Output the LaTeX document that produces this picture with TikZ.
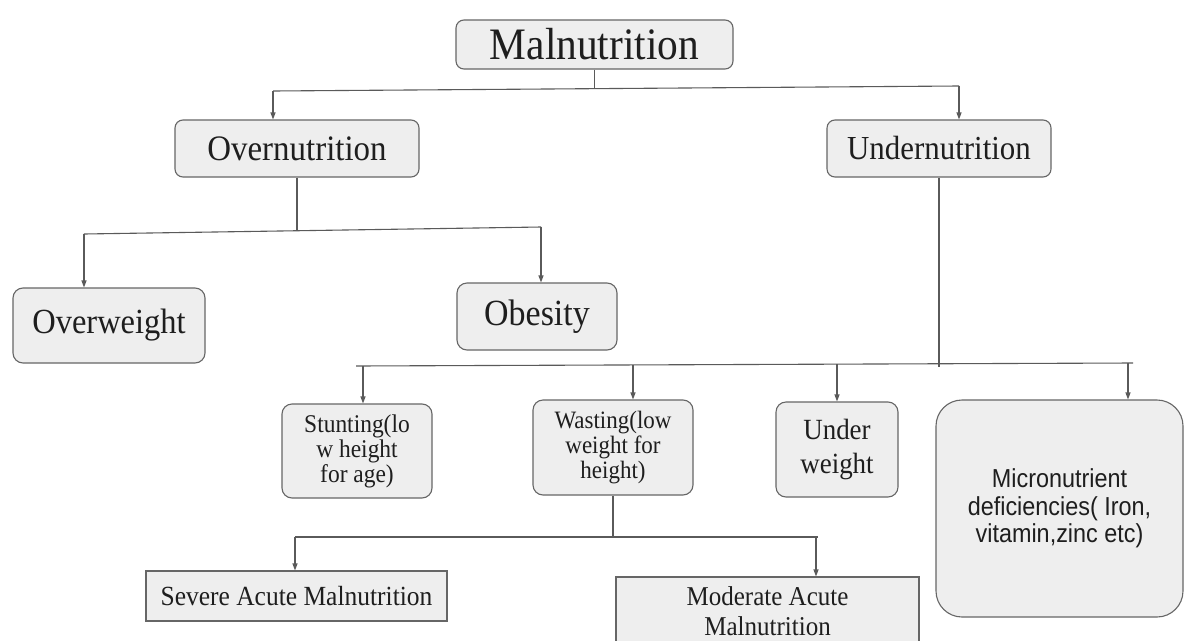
\documentclass[tikz,border=0pt]{standalone}
\usepackage{fontspec}
\setmainfont{Liberation Serif}[FakeStretch=0.92]
\newfontfamily\arialfont{Liberation Sans}[FakeStretch=0.9]
\usetikzlibrary{arrows.meta}
\definecolor{boxfill}{HTML}{EEEEEE}
\definecolor{boxline}{HTML}{666666}
\definecolor{conn}{HTML}{5A5A5A}
\definecolor{txt}{HTML}{1E1E1E}
\tikzset{
  rbox/.style={draw=boxline, line width=1.1pt, fill=boxfill, rounded corners=8pt,
    inner sep=0pt, align=center, text=txt},
  sbox/.style={draw=boxline, line width=1.1pt, fill=boxfill,
    inner sep=0pt, align=center, text=txt},
  link/.style={draw=conn, line width=1.1pt},
  arr/.style={link, -{Triangle[length=7pt,width=5pt]}},
}
\begin{document}
\begin{tikzpicture}[x=1pt,y=-1pt]
\useasboundingbox (0,0) rectangle (1185,640);
\clip (0,0) rectangle (1185,640);
\fill[white] (0,0) rectangle (1185,640);

% nodes
\node[rbox, minimum width=277pt, minimum height=49pt, font=\fontsize{45}{48}\selectfont] (mal) at (594.5,44.5) {Malnutrition};
\node[rbox, minimum width=244pt, minimum height=57pt, font=\fontsize{35.8}{38}\selectfont] (over) at (297,148.5) {Overnutrition};
\node[rbox, minimum width=224pt, minimum height=57pt, font=\fontsize{33.6}{36}\selectfont] (under) at (939,148.5) {Undernutrition};
\node[rbox, rounded corners=10pt, minimum width=192pt, minimum height=75pt, font=\fontsize{35.3}{38}\selectfont] (ow) at (109,325.5) {Overweight};
\node[rbox, rounded corners=10pt, minimum width=160pt, minimum height=67pt, font=\fontsize{36.9}{39}\selectfont] (ob) at (537,316.5) {Obesity};
\node[rbox, rounded corners=10pt, minimum width=150pt, minimum height=94pt, font=\fontsize{25.5}{25}\selectfont] (st) at (357,451) {Stunting(lo\\w height\\for age)};
\node[rbox, rounded corners=10pt, minimum width=160pt, minimum height=95pt, font=\fontsize{25}{25}\selectfont] (wa) at (613,447.5) {Wasting(low\\weight for\\height)};
\node[rbox, rounded corners=10pt, minimum width=122pt, minimum height=95pt, font=\fontsize{29.3}{34}\selectfont] (uw) at (837,449.5) {Under\\weight};
\node[rbox, rounded corners=26pt, minimum width=247pt, minimum height=217pt, font=\arialfont\fontsize{26}{27.5}\selectfont] (mi) at (1059.5,508.5) {Micronutrient\\deficiencies( Iron,\\vitamin,zinc etc)};
\node[sbox, minimum width=301pt, minimum height=50pt, font=\fontsize{27.7}{30}\selectfont] (sev) at (296.5,596) {Severe Acute Malnutrition};
\node[sbox, minimum width=303pt, minimum height=68pt, font=\fontsize{27.2}{30}\selectfont] (mod) at (767.5,611) {Moderate Acute\\Malnutrition};

% junction coordinates
\coordinate (j1) at (594.5,89);
\coordinate (j1L) at (273,91);
\coordinate (j1R) at (959,86);
\coordinate (j2) at (297,231);
\coordinate (j2L) at (84,234);
\coordinate (j2R) at (541,227);
\coordinate (j3) at (939,367);
\coordinate (j3L) at (356,366);
\coordinate (j3R) at (1133,363);
\coordinate (j3a) at (363,366);
\coordinate (j3b) at (633,365);
\coordinate (j3c) at (837,364);
\coordinate (j3d) at (1128,363);
\coordinate (j4) at (613,537);
\coordinate (j4L) at (295,537);
\coordinate (j4R) at (818,537);
\coordinate (j4b) at (816,537);

% connectors
\draw[link] (mal.south) -- (j1);
\draw[link] (j1L) -- (j1R);
\draw[arr] (j1L) -- (j1L |- over.north);
\draw[arr] (j1R) -- (j1R |- under.north);

\draw[link] (over.south) -- (j2);
\draw[link] (j2L) -- (j2R);
\draw[arr] (j2L) -- (j2L |- ow.north);
\draw[arr] (j2R) -- (j2R |- ob.north);

\draw[link] (under.south) -- (j3);
\draw[link] (j3L) -- (j3R);
\draw[arr] (j3a) -- (j3a |- st.north);
\draw[arr] (j3b) -- (j3b |- wa.north);
\draw[arr] (j3c) -- (j3c |- uw.north);
\draw[arr] (j3d) -- (j3d |- mi.north);

\draw[link] (wa.south) -- (j4);
\draw[link] (j4L) -- (j4R);
\draw[arr] (j4L) -- (j4L |- sev.north);
\draw[arr] (j4b) -- (j4b |- mod.north);
\end{tikzpicture}
\end{document}
